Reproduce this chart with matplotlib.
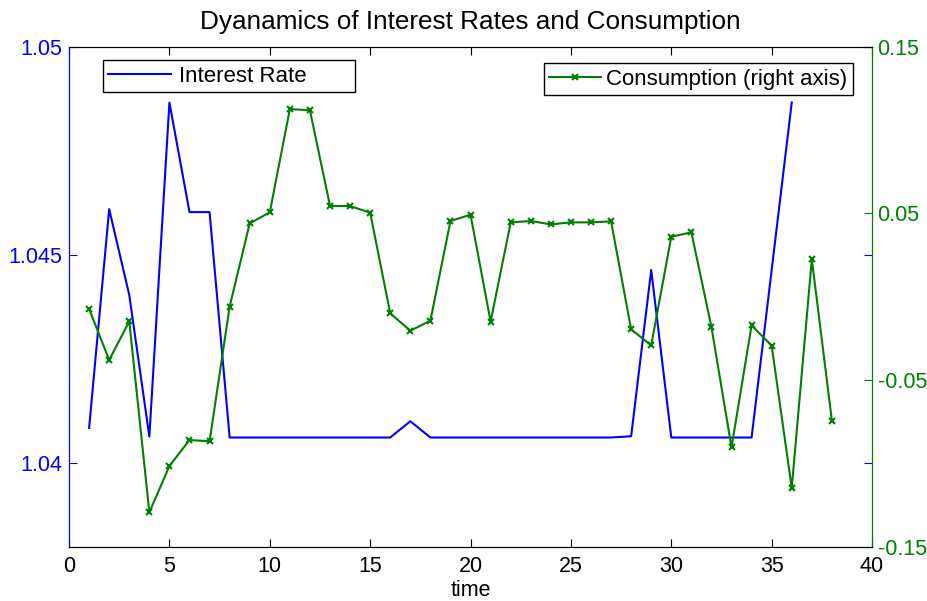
import numpy as np
import matplotlib
matplotlib.use("Agg")
import matplotlib.pyplot as plt

plt.rcParams['font.family'] = ['Liberation Sans', 'DejaVu Sans']
plt.rcParams['axes.unicode_minus'] = False

# interest rate (left axis), periods 1..36
t_rate = list(range(1, 37))
rate = [1.04085, 1.0461, 1.04404, 1.04064, 1.04866, 1.04603, 1.04603, 1.04062,
        1.04062, 1.04062, 1.04062, 1.04062, 1.04062, 1.04062, 1.04062, 1.04062,
        1.04101, 1.04062, 1.04062, 1.04062, 1.04062, 1.04062, 1.04062, 1.04062,
        1.04062, 1.04062, 1.04062, 1.04065, 1.04464, 1.04062, 1.04062, 1.04062,
        1.04062, 1.04062, 1.04464, 1.04866]

# consumption (right axis), periods 1..38
t_cons = list(range(1, 39))
cons = [-0.0074, -0.038, -0.0148, -0.1294, -0.1016, -0.086, -0.0868, -0.006,
        0.044, 0.0506, 0.1126, 0.1118, 0.0544, 0.0544, 0.0504, -0.010,
        -0.0204, -0.0144, 0.0454, 0.0492, -0.015, 0.0446, 0.0454, 0.0434,
        0.0446, 0.0446, 0.0452, -0.0196, -0.0292, 0.036, 0.0386, -0.0182,
        -0.0904, -0.0172, -0.0294, -0.1148, 0.0224, -0.0744]

left_ticks = [1.04, 1.045, 1.05]
left_labels = ["1.04", "1.045", "1.05"]
right_ticks = [-0.15, -0.05, 0.05, 0.15]
right_labels = ["-0.15", "-0.05", "0.05", "0.15"]
x_ticks = [0, 5, 10, 15, 20, 25, 30, 35, 40]

blue = (0, 0, 1)
green = (0, 0.5, 0)
fs = 15.5

fig = plt.figure(figsize=(9.28, 6.01), dpi=100)
ax = fig.add_axes([0.0744, 0.0904, 0.8653, 0.8319])
ax2 = ax.twinx()

l1, = ax.plot(t_rate, rate, color=blue, lw=1.5)
l2, = ax2.plot(t_cons, cons, color=green, lw=1.5, marker='x', ms=5, mew=1.5)

ax.set_xlim(0, 40)
ax.set_ylim(1.038, 1.05)
ax2.set_ylim(-0.15, 0.15)

ax.set_xticks(x_ticks)
ax.set_yticks(left_ticks)
ax.set_yticklabels(left_labels)
ax2.set_yticks(right_ticks)
ax2.set_yticklabels(right_labels)

ax.tick_params(axis='x', direction='in', top=True, length=6, labelsize=fs, pad=7)
ax.tick_params(axis='y', direction='in', right=True, labelright=False,
               length=6, colors=blue, labelsize=fs, pad=5)
ax2.tick_params(axis='y', direction='in', length=6, colors=green, labelsize=fs, pad=4)

ax.spines['left'].set_color(blue)
ax2.spines['left'].set_color(blue)
ax2.spines['right'].set_color(green)
for s in ['top', 'bottom']:
    ax.spines[s].set_color('black')
    ax2.spines[s].set_color('black')

ax.set_title("Dyanamics of Interest Rates and Consumption", fontsize=18.8, pad=13)
ax.set_xlabel("time", fontsize=fs, labelpad=2)

leg1 = ax2.legend([l1], ["Interest Rate       "], loc='upper left',
                  bbox_to_anchor=(0.042, 0.973), fontsize=16, fancybox=False,
                  edgecolor='black', framealpha=1, handlelength=2.8,
                  handletextpad=0.4, borderpad=0.25, borderaxespad=0)
leg1.get_frame().set_linewidth(1)
ax2.add_artist(leg1)
leg2 = ax2.legend([l2], ["Consumption (right axis)"], loc='upper right',
                  bbox_to_anchor=(0.976, 0.967), fontsize=16, fancybox=False,
                  edgecolor='black', framealpha=1, handlelength=2.3,
                  handletextpad=0.25, borderpad=0.25, borderaxespad=0)
leg2.get_frame().set_linewidth(1)

fig.savefig("out.png", dpi=100)
